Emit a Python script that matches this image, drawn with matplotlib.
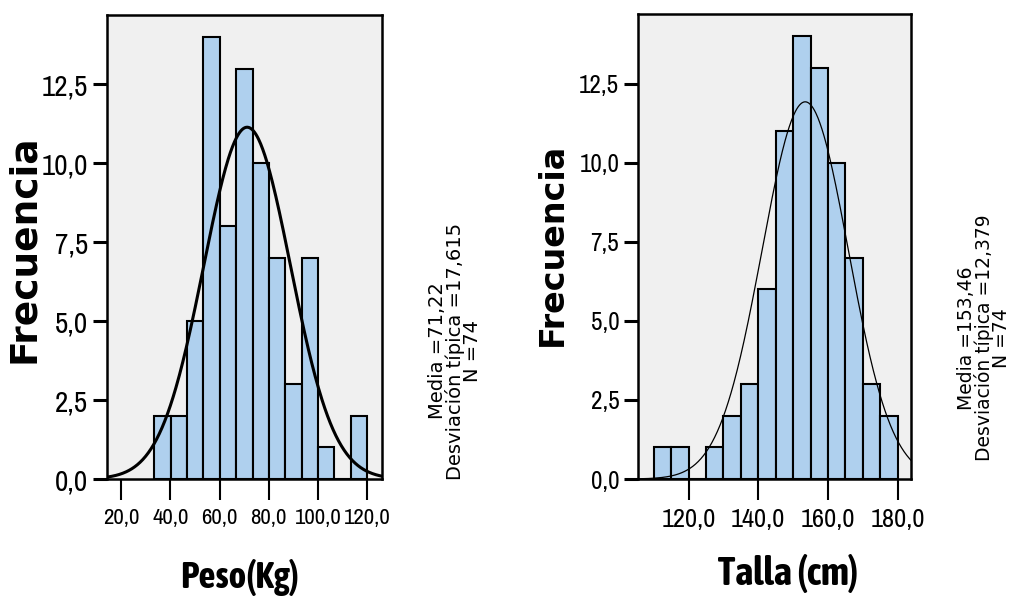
import numpy as np
import matplotlib
matplotlib.use("Agg")
import matplotlib.pyplot as plt
from matplotlib import font_manager

# datos
peso_counts = [2, 2, 5, 14, 8, 13, 10, 7, 3, 7, 1, 0, 2]
peso_bin_start = 33.5
peso_bin_width = 6.65
peso_media, peso_sd, peso_n = 71.22, 17.615, 74

talla_counts = [1, 1, 0, 1, 2, 3, 6, 11, 14, 13, 10, 7, 3, 2]
talla_bin_start = 110.0
talla_bin_width = 5.0
talla_media, talla_sd, talla_n = 153.46, 12.379, 74

y_ticks = [0, 2.5, 5, 7.5, 10, 12.5]
peso_xticks = [20, 40, 60, 80, 100, 120]
talla_xticks = [120, 140, 160, 180]

W, H = 1013, 610
BAR = '#AFD0EE'
BG = '#F0F0F0'

# fuente estrecha: Narrow/Condensed si existe (mejor con negrita)
fonts = font_manager.fontManager.ttflist
narrow_names = sorted({f.name for f in fonts if 'Narrow' in f.name or 'Condensed' in f.name})
bold_narrow = [n for n in narrow_names
               if any(f.name == n and f.weight in (600, 700, 800, 'bold', 'semibold') for f in fonts)]
if narrow_names:
    NF = dict(family=narrow_names[0])
else:
    NF = dict(family='DejaVu Sans', fontstretch='condensed')
if bold_narrow:
    NB = dict(family=bold_narrow[0], fontweight='bold')
else:
    NB = dict(family='DejaVu Sans', fontstretch='condensed', fontweight='bold')


def fmt(v):
    return f"{v:.1f}".replace('.', ',')


def histo(ax, start, width, counts, media, sd, n, xlim, xticks, curve_lw,
          ytick_size, xtick_size):
    edges = start + width * np.arange(len(counts) + 1)
    ax.bar(edges[:-1], counts, width=width, align='edge', color=BAR,
           edgecolor='black', linewidth=1.5, zorder=2)
    xs = np.linspace(xlim[0], xlim[1], 400)
    ys = n * width / (sd * np.sqrt(2 * np.pi)) * np.exp(-0.5 * ((xs - media) / sd) ** 2)
    ax.plot(xs, ys, color='black', linewidth=curve_lw, zorder=3)
    ax.set_facecolor(BG)
    ax.set_xlim(*xlim)
    ax.set_ylim(0, 14.7)
    ax.set_yticks(y_ticks)
    ax.set_yticklabels([fmt(v) for v in y_ticks], fontsize=ytick_size, **NF)
    ax.set_xticks(xticks)
    ax.set_xticklabels([fmt(v) for v in xticks], fontsize=xtick_size, **NF)
    ax.tick_params(axis='y', direction='out', length=10, width=2.2, pad=3.5)
    ax.tick_params(axis='x', direction='out', length=15, width=1.5, pad=6)
    for s in ax.spines.values():
        s.set_linewidth(1.8)


fig = plt.figure(figsize=(W / 100, H / 100), dpi=100)

ax1 = fig.add_axes([107 / W, 1 - 479 / H, 275 / W, 464 / H])
histo(ax1, peso_bin_start, peso_bin_width, peso_counts, peso_media, peso_sd, peso_n,
      (14.3, 126.0), peso_xticks, 2.2, 21, 16.5)

ax2 = fig.add_axes([638 / W, 1 - 479 / H, 273 / W, 465 / H])
histo(ax2, talla_bin_start, talla_bin_width, talla_counts, talla_media, talla_sd, talla_n,
      (105.5, 183.8), talla_xticks, 0.9, 18, 19)

# etiquetas de ejes
fig.text(24 / W, 1 - 249 / H, 'Frecuencia', rotation=90, ha='center', va='center',
         fontsize=27, fontweight='bold', family='DejaVu Sans')
fig.text(552 / W, 1 - 244 / H, 'Frecuencia', rotation=90, ha='center', va='center',
         fontsize=24, fontweight='bold', family='DejaVu Sans')
fig.text(240 / W, 1 - 588 / H, 'Peso(Kg)', ha='center', va='baseline',
         fontsize=27, **NB)
fig.text(788 / W, 1 - 585 / H, 'Talla (cm)', ha='center', va='baseline',
         fontsize=28, **NB)


# estadisticos
def stats(media, sd, n):
    return (f"Media ={str(media).replace('.', ',')}\n"
            f"Desviación típica ={str(sd).replace('.', ',')}\nN ={n}")


fig.text(455 / W, 1 - 351 / H, stats(peso_media, peso_sd, peso_n),
         rotation=90, ha='center', va='center', multialignment='center',
         fontsize=14, linespacing=0.85, family='DejaVu Sans')
fig.text(984 / W, 1 - 338 / H, stats(talla_media, talla_sd, talla_n),
         rotation=90, ha='center', va='center', multialignment='center',
         fontsize=13.5, linespacing=0.85, family='DejaVu Sans')

fig.savefig('out.png', dpi=100)
